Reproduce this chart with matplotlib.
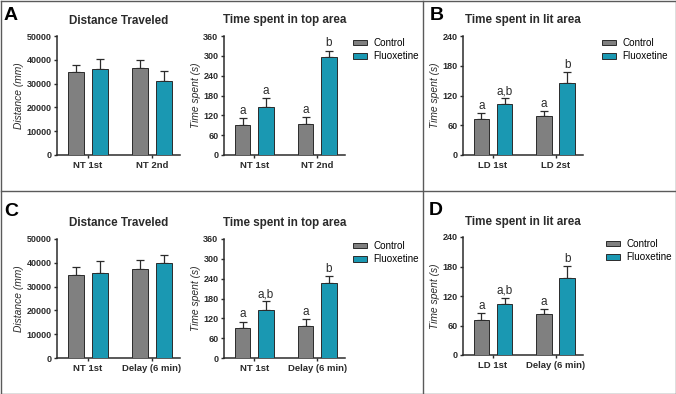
import numpy as np
import matplotlib
matplotlib.use("Agg")
import matplotlib.pyplot as plt
from matplotlib.lines import Line2D
from matplotlib.patches import Patch

plt.rcParams['font.family'] = ['Liberation Sans', 'DejaVu Sans']

W, H = 676, 394
grigio = '#808080'
azzurro = '#1a98b2'
scuro = '#2b2b2b'

# ---- pannello A ----
distA_gruppi = ['NT 1st', 'NT 2nd']
distA_ctrl = [35000, 36500]
distA_ctrl_err = [3000, 3500]
distA_flx = [36000, 31000]
distA_flx_err = [4500, 4500]

topA_gruppi = ['NT 1st', 'NT 2nd']
topA_ctrl = [90, 94]
topA_ctrl_err = [21, 21]
topA_flx = [145, 297]
topA_flx_err = [26, 19]
topA_lettere = ['a', 'a', 'a', 'b']

# ---- pannello B ----
litB_gruppi = ['LD 1st', 'LD 2st']
litB_ctrl = [72, 78]
litB_ctrl_err = [12, 10]
litB_flx = [103, 145]
litB_flx_err = [11, 22]
litB_lettere = ['a', 'a,b', 'a', 'b']

# ---- pannello C ----
distC_gruppi = ['NT 1st', 'Delay (6 min)']
distC_ctrl = [35000, 37500]
distC_ctrl_err = [3200, 3700]
distC_flx = [35800, 40100]
distC_flx_err = [4800, 3300]

topC_gruppi = ['NT 1st', 'Delay (6 min)']
topC_ctrl = [91, 96]
topC_ctrl_err = [19, 22]
topC_flx = [146, 227]
topC_flx_err = [25, 21]
topC_lettere = ['a', 'a,b', 'a', 'b']

# ---- pannello D ----
litD_gruppi = ['LD 1st', 'Delay (6 min)']
litD_ctrl = [72, 83]
litD_ctrl_err = [13, 10]
litD_flx = [103, 157]
litD_flx_err = [13, 24]
litD_lettere = ['a', 'a,b', 'a', 'b']


def rect(l, t, r, b):
    return [l / W, 1 - b / H, (r - l) / W, (b - t) / H]


def pannello(fig, px, gruppi, ctrl, ctrl_err, flx, flx_err, ymax, ystep,
             titolo, ylabel, lettere=None):
    ax = fig.add_axes(rect(*px))
    x = np.arange(len(gruppi))
    larg = 0.25
    off = 0.185
    ax.bar(x - off, ctrl, larg, color=grigio, edgecolor=scuro, linewidth=0.7, zorder=3)
    ax.bar(x + off, flx, larg, color=azzurro, edgecolor=scuro, linewidth=0.7, zorder=3)
    ax.errorbar(x - off, ctrl, yerr=[np.zeros(len(x)), ctrl_err], fmt='none',
                ecolor=scuro, elinewidth=0.9, capsize=2.8, capthick=0.9, zorder=2)
    ax.errorbar(x + off, flx, yerr=[np.zeros(len(x)), flx_err], fmt='none',
                ecolor=scuro, elinewidth=0.9, capsize=2.8, capthick=0.9, zorder=2)
    if lettere is not None:
        pos = [x[0] - off, x[0] + off, x[1] - off, x[1] + off]
        top = [ctrl[0] + ctrl_err[0], flx[0] + flx_err[0],
               ctrl[1] + ctrl_err[1], flx[1] + flx_err[1]]
        for p, t, s in zip(pos, top, lettere):
            ax.text(p, t + ymax * 0.012, s, ha='center', va='bottom',
                    fontsize=8.5, color=scuro)
    ax.set_xlim(-0.48, 1.44)
    ax.set_ylim(0, ymax)
    ax.set_yticks(np.arange(0, ymax + 1, ystep))
    ax.set_xticks(x)
    ax.set_xticklabels(gruppi, fontsize=6.8, fontweight='bold')
    for lab in ax.get_yticklabels():
        lab.set_fontsize(6.5)
        lab.set_fontweight('bold')
    ax.spines['top'].set_visible(False)
    ax.spines['right'].set_visible(False)
    ax.spines['left'].set_linewidth(1.1)
    ax.spines['bottom'].set_linewidth(1.1)
    ax.spines['left'].set_color(scuro)
    ax.spines['bottom'].set_color(scuro)
    ax.tick_params(axis='both', length=2.5, width=1.0, colors=scuro, pad=1.5)
    ax.set_ylabel(ylabel, fontsize=7.4, style='italic', color=scuro, labelpad=1.5)
    ax.set_title(titolo, fontsize=8.4, fontweight='bold', pad=9, color=scuro)
    ax.patch.set_alpha(0)
    return ax


def legenda(fig, xpx, ypx):
    maniglie = [Patch(facecolor=grigio, edgecolor=scuro, linewidth=0.7),
                Patch(facecolor=azzurro, edgecolor=scuro, linewidth=0.7)]
    fig.legend(maniglie, ['Control', 'Fluoxetine'], loc='upper left',
               bbox_to_anchor=(xpx / W, 1 - ypx / H), bbox_transform=fig.transFigure,
               frameon=False, fontsize=7.1, handlelength=1.4, handleheight=0.55,
               handletextpad=0.65, labelspacing=0.33, borderpad=0, borderaxespad=0)


fig = plt.figure(figsize=(W / 100, H / 100), dpi=100)

pannello(fig, (57, 36, 180, 155), distA_gruppi, distA_ctrl, distA_ctrl_err,
         distA_flx, distA_flx_err, 50000, 10000, 'Distance Traveled', 'Distance (mm)')
pannello(fig, (224, 36, 345, 155), topA_gruppi, topA_ctrl, topA_ctrl_err,
         topA_flx, topA_flx_err, 360, 60, 'Time spent in top area', 'Time spent (s)', topA_lettere)
pannello(fig, (463, 36, 583, 155), litB_gruppi, litB_ctrl, litB_ctrl_err,
         litB_flx, litB_flx_err, 240, 60, 'Time spent in lit area', 'Time spent (s)', litB_lettere)
pannello(fig, (57, 239, 180, 358), distC_gruppi, distC_ctrl, distC_ctrl_err,
         distC_flx, distC_flx_err, 50000, 10000, 'Distance Traveled', 'Distance (mm)')
pannello(fig, (224, 239, 345, 358), topC_gruppi, topC_ctrl, topC_ctrl_err,
         topC_flx, topC_flx_err, 360, 60, 'Time spent in top area', 'Time spent (s)', topC_lettere)
pannello(fig, (463, 237, 583, 355), litD_gruppi, litD_ctrl, litD_ctrl_err,
         litD_flx, litD_flx_err, 240, 60, 'Time spent in lit area', 'Time spent (s)', litD_lettere)

legenda(fig, 353, 38)
legenda(fig, 602, 38)
legenda(fig, 353, 241)
legenda(fig, 606, 239)

# lettere dei pannelli
for s, xp, yp in [('A', 4, 15), ('B', 430, 15), ('C', 4, 211), ('D', 429, 210)]:
    fig.text(xp / W, 1 - yp / H, s, fontsize=14, fontweight='bold', va='center', ha='left')

# cornici
col_bordo = '#5a5a5a'
linee = [((0.5, 675.5), (0.5, 0.5)), ((0.5, 675.5), (393.5, 393.5)),
         ((0.5, 0.5), (0.5, 393.5)), ((675.5, 675.5), (0.5, 393.5)),
         ((0.5, 675.5), (191, 191)), ((423, 423), (0.5, 393.5))]
for xs, ys in linee:
    fig.add_artist(Line2D([xs[0] / W, xs[1] / W], [1 - ys[0] / H, 1 - ys[1] / H],
                          color=col_bordo, linewidth=1.0, transform=fig.transFigure))

fig.savefig('out.png', dpi=100)
